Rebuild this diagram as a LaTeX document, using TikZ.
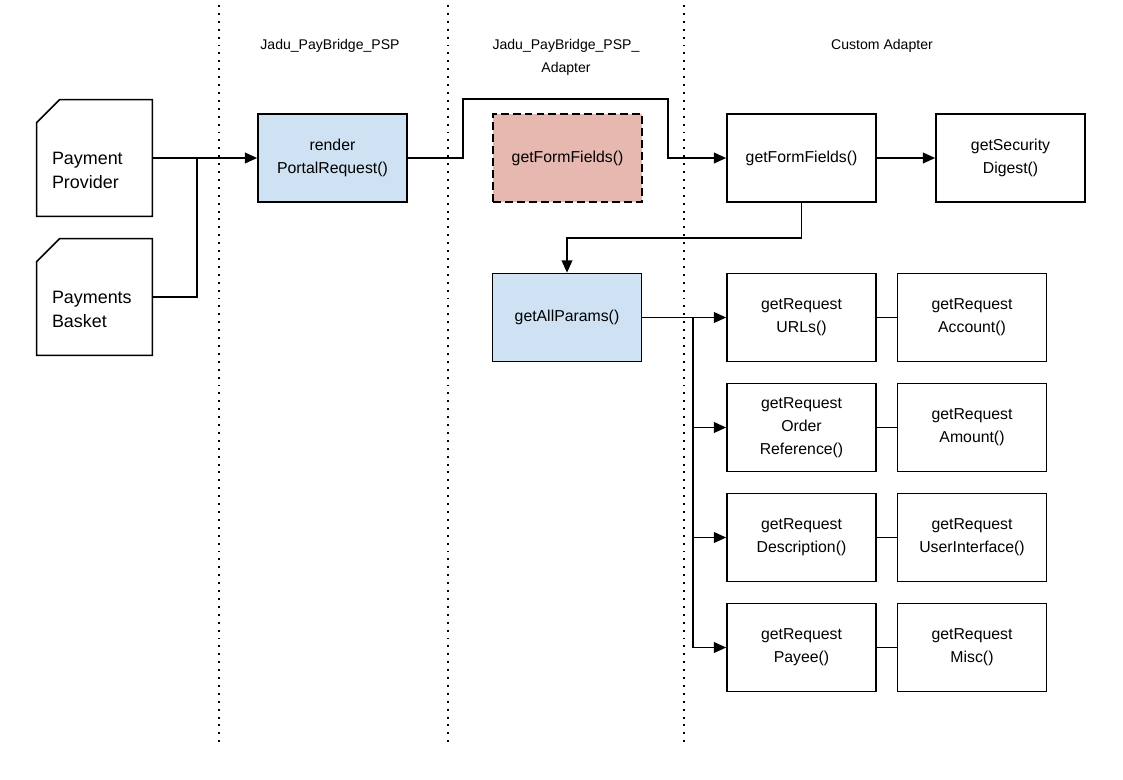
\documentclass[tikz,border=0pt]{standalone}
\usepackage{fontspec}
\setmainfont{Liberation Sans}
\usetikzlibrary{arrows.meta}

\definecolor{pspblue}{HTML}{CFE2F3}
\definecolor{stubred}{HTML}{E6B8AF}

\begin{document}
\begin{tikzpicture}[x=0.02cm, y=-0.02cm,
fn/.style={draw, line width=0.9pt, minimum width=2.98cm, minimum height=1.76cm, align=center, font=\fontsize{9}{13}\selectfont},
pspfn/.style={fn, fill=pspblue},
stubfn/.style={fn, fill=stubred, dash pattern=on 4.5pt off 2.3pt},
docnode/.style={minimum width=2.3cm, minimum height=2.32cm},
doctext/.style={anchor=west, align=left, inner sep=0pt, xshift=0.3cm, yshift=-0.24cm, font=\fontsize{10.2}{13.6}\selectfont},
lane/.style={line width=1.1pt, dash pattern=on 1.1pt off 3.4pt},
head/.style={align=center, font=\fontsize{8}{13}\selectfont},
wire/.style={line width=1.1pt},
flow/.style={wire, -{Triangle[length=7pt, width=6pt]}},
]

\useasboundingbox (0,0) rectangle (1123,779);

% lanes
\foreach \lx in {219,448,684} {\draw[lane] (\lx,5) -- (\lx,745);}

\node[head] (hpsp) at (330,46) {Jadu\_PayBridge\_PSP};
\node[head] (hadapter) at (566,57) {Jadu\_PayBridge\_PSP\_\\Adapter};
\node[head] (hcustom) at (882,46) {Custom Adapter};

% sources
\node[docnode, label={[doctext]west:Payment\\Provider}] (provider) at (94.5,158) {};
\node[docnode, label={[doctext]west:Payments\\Basket}] (basket) at (94.5,297) {};
\foreach \d in {provider,basket} {
  \draw[line width=0.9pt] ([yshift=-0.46cm]\d.north west) -- ([xshift=0.46cm]\d.north west) -- (\d.north east) -- (\d.south east) -- (\d.south west) -- cycle;
}

% functions
\node[pspfn] (render) at (332.5,158) {render\\PortalRequest()};
\node[stubfn] (stub) at (567.5,158) {getFormFields()};
\node[fn] (formfields) at (801.5,158) {getFormFields()};
\node[fn] (digest) at (1010.5,158) {getSecurity\\Digest()};
\node[pspfn] (allparams) at (567,317.5) {getAllParams()};

\node[fn] (urls) at (801.5,317.5) {getRequest\\URLs()};
\node[fn] (account) at (972,317.5) {getRequest\\Account()};
\node[fn] (order) at (801.5,427.5) {getRequest\\Order\\Reference()};
\node[fn] (amount) at (972,427.5) {getRequest\\Amount()};
\node[fn] (descr) at (801.5,537.5) {getRequest\\Description()};
\node[fn] (ui) at (972,537.5) {getRequest\\UserInterface()};
\node[fn] (payee) at (801.5,647.5) {getRequest\\Payee()};
\node[fn] (misc) at (972,647.5) {getRequest\\Misc()};

% connectors
\coordinate (join) at (197,158);
\coordinate (hopL) at (463,99);
\coordinate (hopR) at (668,99);
\coordinate (drop) at (567,238);
\coordinate (fork) at (693,317.5);

\draw[flow] (provider.east) -- (render.west);
\draw[wire] (basket.east) -| (join);
\draw[flow] (render.east) -| (hopL) -- (hopR) |- (formfields.west);
\draw[flow] (formfields) -- (digest);
\draw[flow] (formfields.south) |- (drop) -- (allparams.north);
\draw[flow] (allparams.east) -- (urls.west);
\foreach \r in {order,descr,payee} {\draw[flow] (fork) |- (\r.west);}
\foreach \a/\b in {urls/account,order/amount,descr/ui,payee/misc} {\draw[wire] (\a) -- (\b);}

\end{tikzpicture}
\end{document}
